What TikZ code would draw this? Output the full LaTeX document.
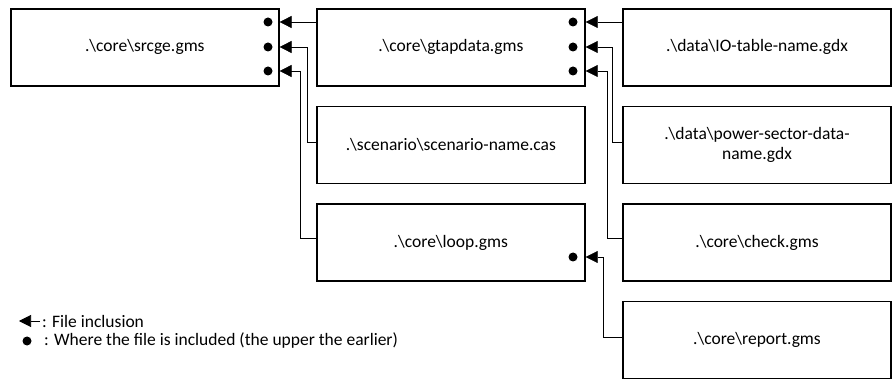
\documentclass[tikz,border=0pt]{standalone}
\usepackage{fontspec}
\setmainfont{Carlito}
\usepackage{tikz}
\usetikzlibrary{positioning,arrows.meta,calc}
\newcommand{\bsl}{\textbackslash}

\begin{document}
\begin{tikzpicture}[
		x=1pt, y=-1pt,
		font=\fontsize{17.5}{20}\selectfont,
		box/.style={draw, line width=1.6pt, minimum width=268pt, minimum height=77pt, align=center, inner sep=3pt},
		dot/.style={circle, fill, inner sep=0pt, minimum size=9pt},
		incl/.style={-{Triangle[length=12pt,width=12pt]}, semithick}
		]
		\useasboundingbox (0,0) rectangle (895,382);
		% file boxes
		\node[box, anchor=north west] (srcge) at (10,8) {.\bsl core\bsl srcge.gms};
		\node[box, right=36.5pt of srcge] (gtap) {.\bsl core\bsl gtapdata.gms};
		\node[box, right=36.5pt of gtap] (iotab) {.\bsl data\bsl IO-table-name.gdx};
		\node[box, below=19pt of gtap] (scen) {.\bsl scenario\bsl scenario-name.cas};
		\node[box, below=19pt of iotab] (power) {.\bsl data\bsl power-sector-data-\\name.gdx};
		\node[box, below=19pt of scen] (loop) {.\bsl core\bsl loop.gms};
		\node[box, below=19pt of power] (check) {.\bsl core\bsl check.gms};
		\node[box, below=19pt of check] (report) {.\bsl core\bsl report.gms};
		% inclusion points
		\node[dot] (s1) at (268,22) {};
		\node[dot] (s2) at (268,47) {};
		\node[dot] (s3) at (268,71) {};
		\node[dot] (g1) at (573,22) {};
		\node[dot] (g2) at (573,47) {};
		\node[dot] (g3) at (573,71) {};
		\node[dot] (l1) at (573,257) {};
		% inclusions
		\draw[incl] (gtap.west |- s1) -- (srcge.east |- s1);
		\draw[incl] ([yshift=3pt]scen.west) -- ++(-9,0) |- (srcge.east |- s2);
		\draw[incl] ([yshift=4pt]loop.west) -- ++(-16,0) |- (srcge.east |- s3);
		\draw[incl] (iotab.west |- g1) -- (gtap.east |- g1);
		\draw[incl] ([yshift=3pt]power.west) -- ++(-10,0) |- (gtap.east |- g2);
		\draw[incl] ([yshift=4pt]check.west) -- ++(-15,0) |- (gtap.east |- g3);
		\draw[incl] ([yshift=3pt]report.west) -- ++(-19,0) |- (gtap.east |- l1);
		% legend
		\coordinate (legfrom) at (40,321);
		\coordinate (legto) at (19,321);
		\draw[incl] (legfrom) -- (legto);
		\node[anchor=west, inner sep=0pt] (leg1) at (42,321) {: File inclusion};
		\node[dot] (legdot) at (27,341) {};
		\node[anchor=west, inner sep=0pt] (leg2) at (44,341) {: Where the file is included (the upper the earlier)};
	\end{tikzpicture}
\end{document}
